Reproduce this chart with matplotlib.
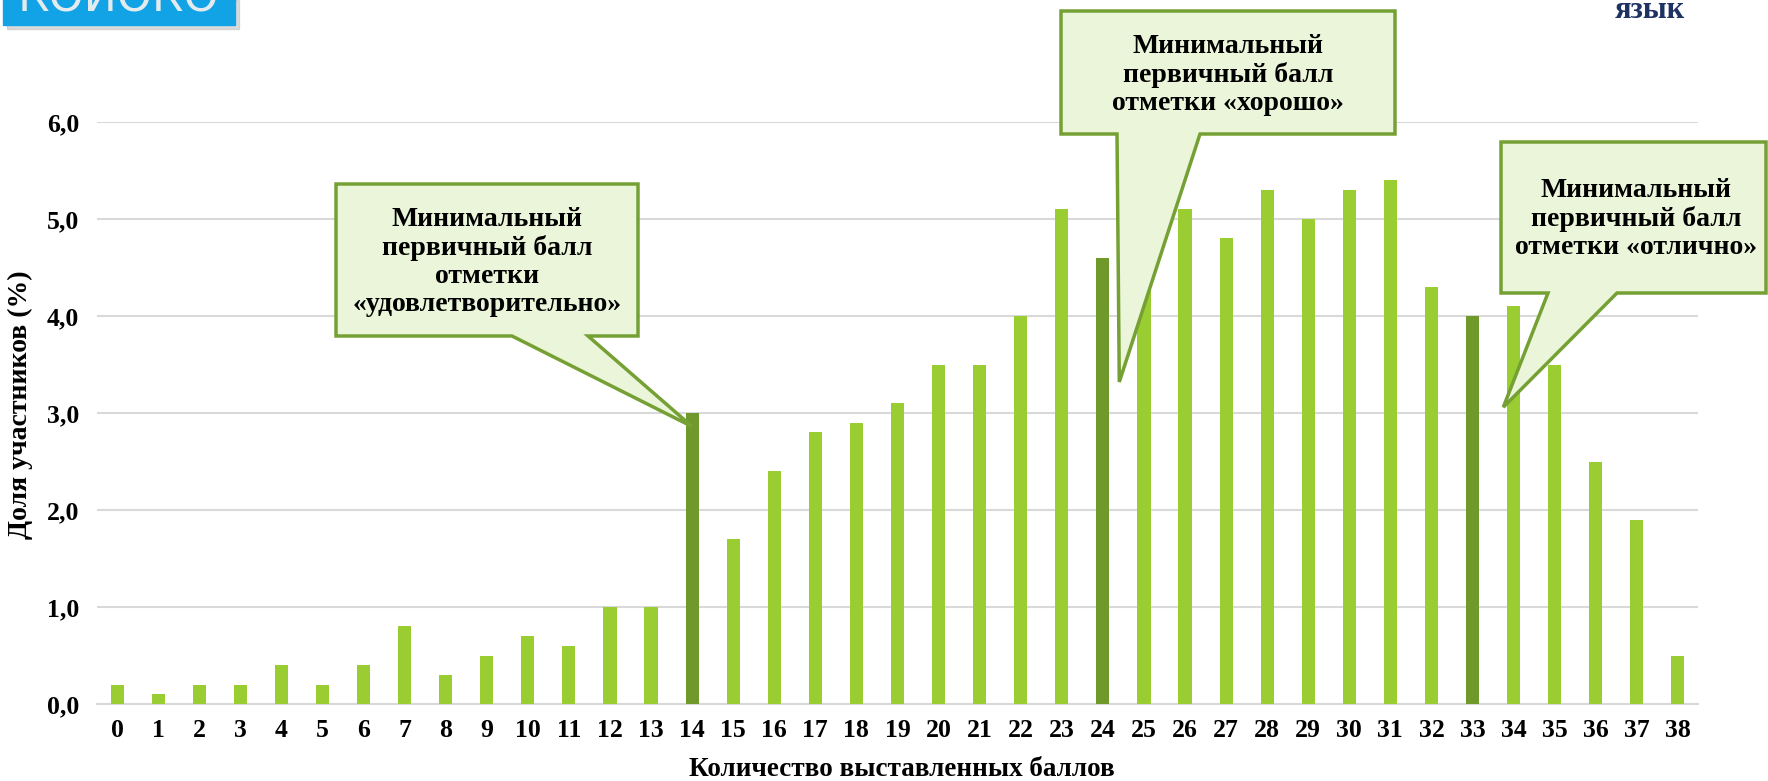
import matplotlib
matplotlib.use("Agg")
import matplotlib.pyplot as plt
from matplotlib.patches import Polygon, Rectangle

W, H = 1768, 781

scores = list(range(39))
shares = [0.2, 0.1, 0.2, 0.2, 0.4, 0.2, 0.4, 0.8, 0.3, 0.5,
          0.7, 0.6, 1.0, 1.0, 3.0, 1.7, 2.4, 2.8, 2.9, 3.1,
          3.5, 3.5, 4.0, 5.1, 4.6, 4.7, 5.1, 4.8, 5.3, 5.0,
          5.3, 5.4, 4.3, 4.0, 4.1, 3.5, 2.5, 1.9, 0.5]
threshold_scores = [14, 24, 33]
yticks = [0, 1, 2, 3, 4, 5, 6]
ytick_labels = ["0,0", "1,0", "2,0", "3,0", "4,0", "5,0", "6,0"]

callout_texts = [
    "Минимальный\nпервичный балл\nотметки\n«удовлетворительно»",
    "Минимальный\nпервичный балл\nотметки «хорошо»",
    "Минимальный\nпервичный балл\nотметки «отлично»",
]
# tips point at the threshold bars (data coords)
callout_tips = [(14.0, 2.86), (24.4, 3.32), (33.75, 3.06)]

LIGHT = "#9acd32"
DARK = "#6f9a2b"
BOX_FILL = "#ebf5da"
BOX_EDGE = "#75a033"
SERIF = "Liberation Serif"

fig = plt.figure(figsize=(W / 100, H / 100), dpi=100)
ax = fig.add_axes([97 / W, 1 - 704 / H, (1698 - 97) / W, (704 - 122) / H])

colors = [DARK if s in threshold_scores else LIGHT for s in scores]
ax.bar(scores, shares, width=0.32, color=colors, zorder=3)

ax.set_xlim(-0.49, 38.49)
ax.set_ylim(0, 6)
ax.set_yticks(yticks)
ax.set_yticklabels(ytick_labels)
ax.set_xticks(scores)
ax.set_xticklabels([str(s) for s in scores])
ax.grid(axis="y", color="#d9d9d9", linewidth=1.5, zorder=0)
for side in ["top", "right", "left"]:
    ax.spines[side].set_visible(False)
ax.spines["bottom"].set_color("#d9d9d9")
ax.spines["bottom"].set_linewidth(1.5)
ax.tick_params(length=0, labelsize=18.5)
ax.tick_params(axis="x", pad=11)
ax.tick_params(axis="y", pad=13)
for lab in ax.get_xticklabels() + ax.get_yticklabels():
    lab.set_fontfamily(SERIF)
    lab.set_fontweight("bold")

fig.text(20 / W, 1 - 405 / H, "Доля участников (%)", rotation=90,
         ha="center", va="center", fontsize=20, fontweight="bold", family=SERIF)
fig.text(902 / W, 1 - 770 / H, "Количество выставленных баллов",
         ha="center", va="center", fontsize=19.5, fontweight="bold", family=SERIF)

# heading fragment top right
fig.text(1650 / W, 1 - 18 / H, "язык", ha="center", va="baseline",
         fontsize=22, fontweight="bold", family=SERIF, color="#1f3264")

# logo fragment top left
fig.patches.append(Rectangle((7 / W, 1 - 29 / H), 232 / W, 29 / H,
                             transform=fig.transFigure, color="#b8b8b8",
                             alpha=0.5, zorder=1))
fig.patches.append(Rectangle((3 / W, 1 - 25 / H), 232 / W, 30 / H,
                             transform=fig.transFigure, color="#12a3e6",
                             zorder=2))
fig.text(118 / W, 1 - 12 / H, "КОИОКО", ha="center", va="baseline",
         fontsize=32, color="#e3ebef", family="DejaVu Sans", zorder=3)

fig.canvas.draw()


def to_pix(x, y):
    px, py = ax.transData.transform((x, y))
    return px, H - py


# box (left, top, right, bottom), pointer base x1, x2 -- pixel coords
boxes = [
    (336, 184, 638, 336, 512, 588),
    (1061, 11, 1395, 134, 1117, 1200),
    (1501, 142, 1766, 293, 1548, 1617),
]
text_centers = [(487, 262), (1228, 75), (1636, 219)]

for (l, t, r, b, b1, b2), tip, txt, (tx, ty) in zip(boxes, callout_tips,
                                                     callout_texts, text_centers):
    tpx, tpy = to_pix(*tip)
    pts = [(l, t), (r, t), (r, b), (b2, b), (tpx, tpy), (b1, b), (l, b)]
    pts = [(x / W, 1 - y / H) for x, y in pts]
    poly = Polygon(pts, closed=True, transform=fig.transFigure,
                   facecolor=BOX_FILL, edgecolor=BOX_EDGE, linewidth=2.5,
                   joinstyle="miter", zorder=10)
    fig.patches.append(poly)
    fig.text(tx / W, 1 - ty / H, txt, ha="center", va="center",
             fontsize=20, fontweight="bold", family=SERIF,
             linespacing=1.15, zorder=11)

plt.savefig("out.png", dpi=100)
